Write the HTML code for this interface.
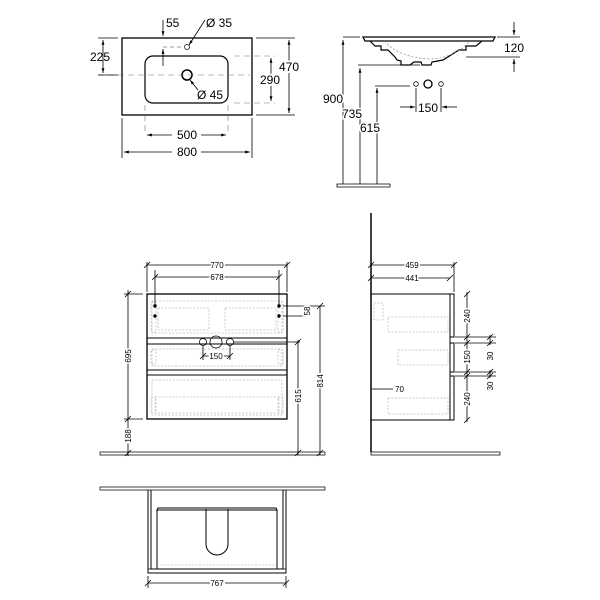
<!DOCTYPE html>
<html><head><style>body{margin:0;background:#fff}svg{display:block}</style></head><body>
<svg width="600" height="600" viewBox="0 0 600 600" xmlns="http://www.w3.org/2000/svg" font-family="Liberation Sans, sans-serif">
<defs>
<marker id="a" viewBox="0 0 10 10" refX="10" refY="5" markerWidth="6" markerHeight="6" orient="auto-start-reverse"><path d="M0,2 L10,5 L0,8z" fill="#000"/></marker>
</defs>
<g stroke="#000" fill="none" stroke-width="0.8">
<!-- top-left plan -->
<rect x="122" y="38" width="130" height="77" stroke-width="1.3"/>
<rect x="145" y="56" width="83" height="47" rx="8" stroke-width="1.2"/>
<circle cx="187" cy="47" r="2.5" stroke-width="0.7"/>
<circle cx="187" cy="75" r="5" stroke-width="1.5"/>
<g stroke="#777" stroke-dasharray="6,4" stroke-width="0.6">
<line x1="98" y1="75" x2="250" y2="75"/><line x1="234" y1="56" x2="275" y2="56"/><line x1="234" y1="103" x2="275" y2="103"/>
<line x1="145" y1="105" x2="145" y2="135"/><line x1="228" y1="105" x2="228" y2="135"/>
</g>
<line x1="98" y1="38" x2="118" y2="38"/><line x1="98" y1="75" x2="118" y2="75"/>
<line x1="103" y1="40" x2="103" y2="73" marker-start="url(#a)" marker-end="url(#a)"/>
<line x1="256" y1="38" x2="295" y2="38"/><line x1="256" y1="115" x2="295" y2="115"/>
<line x1="289" y1="40" x2="289" y2="113" marker-start="url(#a)" marker-end="url(#a)"/>
<line x1="271" y1="58" x2="271" y2="101" marker-start="url(#a)" marker-end="url(#a)"/>
<line x1="163" y1="20" x2="163" y2="36" marker-end="url(#a)"/>
<line x1="163" y1="66" x2="163" y2="49" marker-end="url(#a)"/><line x1="163" y1="47" x2="185" y2="47" stroke="#777" stroke-dasharray="4,3"/>
<line x1="205" y1="20" x2="189" y2="45" marker-end="url(#a)"/>
<line x1="198" y1="90" x2="190" y2="80" marker-end="url(#a)"/>
<line x1="122" y1="118" x2="122" y2="158"/><line x1="252" y1="118" x2="252" y2="158"/>
<line x1="147" y1="135" x2="172" y2="135" marker-start="url(#a)"/><line x1="201" y1="135" x2="226" y2="135" marker-end="url(#a)"/>
<line x1="124" y1="152" x2="172" y2="152" marker-start="url(#a)"/><line x1="201" y1="152" x2="250" y2="152" marker-end="url(#a)"/>
<!-- top-right section -->
<path d="M363,37 L495,37 L493,41 L365,41 Z" stroke-width="1.3"/>
<path d="M370,41 L375,46 L381,46 L381,50 L388,50 L395,57 L397,60 L401,61 L401,65 L410,65 L414,62 L421,62 L422,65 L431,65 L432,62 L443,60 L459,50 L466,50 L466,46 L476,46 L482,41" stroke-width="1.2"/>
<path d="M384,41 Q400,58 430,59 Q455,58 470,41" stroke="#777" stroke-dasharray="2,2" stroke-width="0.6"/>
<line x1="343" y1="37" x2="360" y2="37"/><line x1="358" y1="65" x2="420" y2="65"/><line x1="375" y1="86" x2="410" y2="86"/>
<line x1="343" y1="40" x2="343" y2="184" marker-start="url(#a)"/>
<line x1="360" y1="68" x2="360" y2="184" marker-start="url(#a)"/>
<line x1="377" y1="88" x2="377" y2="184" marker-start="url(#a)"/>
<path d="M337,184 L390,184 L390,187 L337,187 Z" stroke-width="0.8"/>
<line x1="497" y1="37" x2="520" y2="37"/><line x1="466" y1="57" x2="520" y2="57"/>
<line x1="514" y1="22" x2="514" y2="35" marker-end="url(#a)"/><line x1="514" y1="72" x2="514" y2="59" marker-end="url(#a)"/>
<circle cx="416" cy="84" r="2.3"/><circle cx="428" cy="84" r="4" stroke-width="1.3"/><circle cx="441" cy="84" r="2.3"/>
<line x1="416" y1="88" x2="416" y2="112"/><line x1="441" y1="88" x2="441" y2="112"/>
<line x1="400" y1="107" x2="415" y2="107" marker-end="url(#a)"/><line x1="457" y1="107" x2="442" y2="107" marker-end="url(#a)"/>
<!-- middle front -->
<rect x="147" y="294" width="140" height="125" stroke-width="1.3"/>
<rect x="147" y="338" width="140" height="6" stroke-width="1"/>
<rect x="147" y="370" width="140" height="5" stroke-width="1"/>
<g stroke="#999" stroke-dasharray="2,1.5" stroke-width="0.5">
<rect x="152" y="301" width="130" height="32"/><rect x="158" y="308" width="51" height="22"/><rect x="225" y="308" width="51" height="22"/>
<rect x="152" y="349" width="130" height="17"/><rect x="152" y="380" width="130" height="35"/><rect x="155" y="397" width="124" height="16"/>
<rect x="151" y="302" width="5" height="30"/><rect x="278" y="302" width="5" height="30"/>
<rect x="151" y="350" width="5" height="14"/><rect x="278" y="350" width="5" height="14"/>
<rect x="151" y="397" width="5" height="16"/><rect x="278" y="397" width="5" height="16"/>
</g>
<circle cx="155" cy="306" r="1.3" fill="#000"/><circle cx="155" cy="316" r="1.3" fill="#000"/>
<circle cx="279" cy="306" r="1.3" fill="#000"/><circle cx="279" cy="316" r="1.3" fill="#000"/>
<circle cx="203" cy="342" r="3.5"/><circle cx="216" cy="342" r="6"/><circle cx="230" cy="342" r="3.5"/>
<line x1="155" y1="270" x2="155" y2="306"/><line x1="279" y1="270" x2="279" y2="306"/>
<line x1="147" y1="262" x2="147" y2="292"/><line x1="287" y1="262" x2="287" y2="292"/>
<line x1="147" y1="265" x2="287" y2="265"/><line x1="155" y1="277" x2="279" y2="277"/>
<line x1="124" y1="294" x2="143" y2="294"/><line x1="124" y1="419" x2="143" y2="419"/>
<line x1="128" y1="290" x2="128" y2="456"/>
<line x1="283" y1="306" x2="308" y2="306"/><line x1="283" y1="316" x2="308" y2="316"/>
<line x1="233" y1="342" x2="300" y2="342"/>
<line x1="298" y1="340" x2="298" y2="455"/><line x1="320" y1="306" x2="320" y2="455"/><line x1="305" y1="306" x2="325" y2="306"/>
<line x1="203" y1="346" x2="203" y2="360"/><line x1="230" y1="346" x2="230" y2="360"/><line x1="203" y1="356" x2="230" y2="356"/>
<g stroke-width="0.8">
<line x1="144" y1="268" x2="150" y2="262"/><line x1="284" y1="268" x2="290" y2="262"/>
<line x1="152" y1="280" x2="158" y2="274"/><line x1="276" y1="280" x2="282" y2="274"/>
<line x1="125" y1="297" x2="131" y2="291"/><line x1="125" y1="422" x2="131" y2="416"/><line x1="125" y1="456" x2="131" y2="450"/>
<line x1="295" y1="345" x2="301" y2="339"/><line x1="295" y1="456" x2="301" y2="450"/>
<line x1="317" y1="309" x2="323" y2="303"/><line x1="317" y1="456" x2="323" y2="450"/>
<line x1="200" y1="359" x2="206" y2="353"/><line x1="227" y1="359" x2="233" y2="353"/>
</g>
<path d="M100,452 L325,452 L325,455 L100,455 Z" stroke-width="0.7"/>
<!-- side view -->
<line x1="371" y1="213" x2="371" y2="452" stroke-width="1.5"/>
<rect x="371" y="294" width="79" height="126" stroke-width="1"/>
<path d="M450,294 L454,294 L454,337 L450,337 M450,343 L454,343 L454,372 L450,372 M450,376 L454,376 L454,420 L450,420" stroke-width="1"/>
<g stroke="#999" stroke-dasharray="2,1.5" stroke-width="0.5">
<rect x="374" y="303" width="9" height="17"/><rect x="388" y="317" width="60" height="15"/>
<rect x="398" y="350" width="50" height="15"/><rect x="388" y="398" width="60" height="16"/>
</g>
<line x1="371" y1="262" x2="371" y2="292"/><line x1="454" y1="262" x2="454" y2="292"/>
<line x1="371" y1="265" x2="454" y2="265"/><line x1="371" y1="278" x2="450" y2="278"/>
<line x1="467" y1="292" x2="467" y2="422"/>
<line x1="455" y1="337" x2="496" y2="337"/><line x1="455" y1="343" x2="496" y2="343"/>
<line x1="455" y1="372" x2="496" y2="372"/><line x1="455" y1="376" x2="496" y2="376"/>
<line x1="490" y1="335" x2="490" y2="345"/><line x1="490" y1="370" x2="490" y2="378"/>
<line x1="372" y1="389" x2="383" y2="389"/><line x1="383" y1="389" x2="393" y2="389"/>
<g stroke-width="0.8">
<line x1="368" y1="268" x2="374" y2="262"/><line x1="451" y1="268" x2="457" y2="262"/>
<line x1="368" y1="281" x2="374" y2="275"/><line x1="447" y1="281" x2="453" y2="275"/>
<line x1="464" y1="297" x2="470" y2="291"/><line x1="464" y1="340" x2="470" y2="334"/><line x1="464" y1="346" x2="470" y2="340"/>
<line x1="464" y1="375" x2="470" y2="369"/><line x1="464" y1="379" x2="470" y2="373"/><line x1="464" y1="423" x2="470" y2="417"/>
<line x1="487" y1="340" x2="493" y2="334"/><line x1="487" y1="346" x2="493" y2="340"/>
<line x1="487" y1="375" x2="493" y2="369"/><line x1="487" y1="379" x2="493" y2="373"/>
</g>
<path d="M371,452 L500,452 L500,455 L371,455 Z" stroke-width="0.7"/>
<!-- bottom top view -->
<path d="M100,487 L325,487 L325,490 L100,490 Z" stroke-width="0.7"/>
<path d="M148,490 L148,573 L286,573 L286,490 M151,490 L151,569 L283,569 L283,490" stroke-width="1"/>
<line x1="148" y1="569" x2="286" y2="569"/>
<path d="M157,510 L158,508 L276,508 L277,510 Z M157,510 L157,569 M277,510 L277,569" stroke-width="1"/>
<line x1="157" y1="565" x2="277" y2="565" stroke="#999" stroke-dasharray="2,1.5" stroke-width="0.5"/>
<path d="M206,509 L206,544 A11,11 0 0 0 228,544 L228,509" stroke-width="1"/>
<line x1="148" y1="576" x2="148" y2="588"/><line x1="286" y1="576" x2="286" y2="588"/>
<line x1="148" y1="583" x2="210" y2="583"/><line x1="225" y1="583" x2="286" y2="583"/>
<line x1="145" y1="586" x2="151" y2="580"/><line x1="283" y1="586" x2="289" y2="580"/>
</g>
<g font-size="12" fill="#000">
<text x="100" y="61" text-anchor="middle">225</text>
<text x="289" y="71" text-anchor="middle" fill="#000" style="paint-order:stroke" stroke="#fff" stroke-width="4">470</text>
<text x="270" y="84" text-anchor="middle" style="paint-order:stroke" stroke="#fff" stroke-width="4">290</text>
<text x="166" y="27">55</text>
<text x="206" y="27">Ø 35</text>
<text x="197" y="99">Ø 45</text>
<text x="187" y="139" text-anchor="middle">500</text>
<text x="187" y="156" text-anchor="middle">800</text>
<text x="514" y="52" text-anchor="middle">120</text>
<text x="333" y="103" text-anchor="middle" style="paint-order:stroke" stroke="#fff" stroke-width="3">900</text>
<text x="352" y="118" text-anchor="middle" style="paint-order:stroke" stroke="#fff" stroke-width="3">735</text>
<text x="370" y="132" text-anchor="middle" style="paint-order:stroke" stroke="#fff" stroke-width="3">615</text>
<text x="428" y="112" text-anchor="middle">150</text>
</g>
<g font-size="8" fill="#000" style="paint-order:stroke" stroke="#fff" stroke-width="3">
<text x="217" y="268" text-anchor="middle">770</text>
<text x="217" y="280" text-anchor="middle">678</text>
<text x="216" y="359" text-anchor="middle">150</text>
<text transform="translate(131,356) rotate(-90)" text-anchor="middle">695</text>
<text transform="translate(131,436) rotate(-90)" text-anchor="middle">188</text>
<text transform="translate(301,396) rotate(-90)" text-anchor="middle">615</text>
<text transform="translate(323,381) rotate(-90)" text-anchor="middle">814</text>
<text transform="translate(310,311) rotate(-90)" text-anchor="middle">58</text>
<text x="412" y="268" text-anchor="middle">459</text>
<text x="412" y="281" text-anchor="middle">441</text>
<text transform="translate(470,316) rotate(-90)" text-anchor="middle">240</text>
<text transform="translate(470,357) rotate(-90)" text-anchor="middle">150</text>
<text transform="translate(470,399) rotate(-90)" text-anchor="middle">240</text>
<text transform="translate(493,356) rotate(-90)" text-anchor="middle">30</text>
<text transform="translate(493,386) rotate(-90)" text-anchor="middle">30</text>
<text x="395" y="392">70</text>
<text x="217" y="586" text-anchor="middle">767</text>
</g>
</svg>
</body></html>
